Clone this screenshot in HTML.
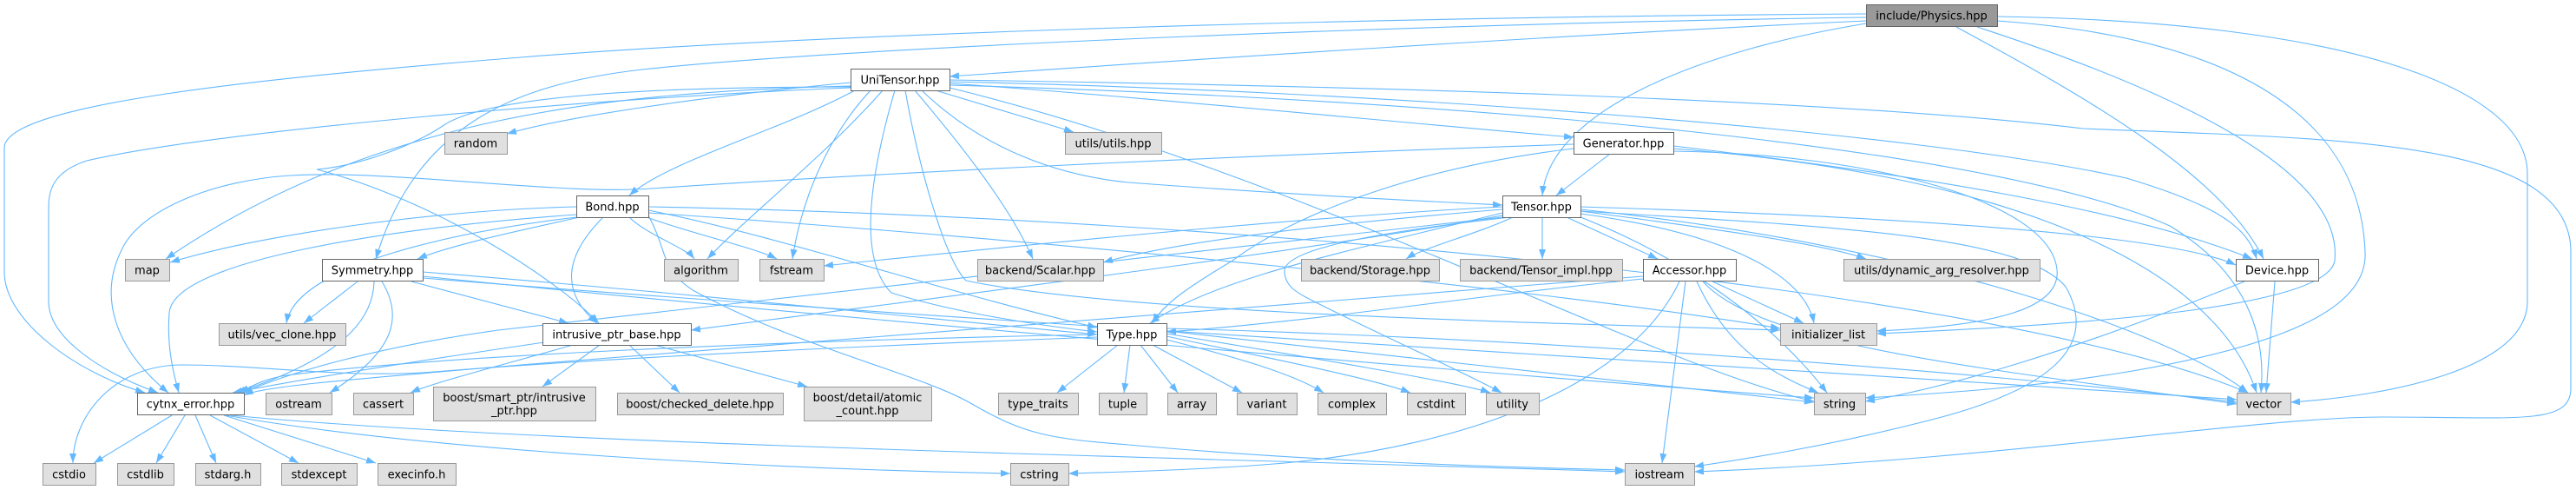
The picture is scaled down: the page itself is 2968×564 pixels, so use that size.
<!DOCTYPE html>
<html><head><meta charset="utf-8"><style>
html,body{margin:0;padding:0;background:#fff;}
svg{display:block;}
text{font-family:"DejaVu Sans","Liberation Sans",sans-serif;font-size:13px;fill:#000;text-anchor:middle;}
.w{fill:#fff;stroke:#666;stroke-width:1;}
.g{fill:#e0e0e0;stroke:#999;stroke-width:1;}
.r{fill:#999;stroke:#666;stroke-width:1;}
.e path{fill:none;stroke:#63b8ff;stroke-width:1.1;marker-end:url(#a);}
</style></head><body>
<svg width="2968" height="564" viewBox="0 0 2968 564" xmlns="http://www.w3.org/2000/svg">
<defs><marker id="a" viewBox="0 0 11 8" refX="11" refY="4" markerWidth="11" markerHeight="8" markerUnits="userSpaceOnUse" orient="auto"><path d="M0,0 L11,4 L0,8 z" fill="#63b8ff"/></marker></defs>
<g class="e">
<path d="M2150,24 C1800,40 1350,70 1094,88"/>
<path d="M2150,20 C1700,26 1000,52 740,80 C600,96 480,140 433,298"/>
<path d="M2150,16 C1500,20 900,42 600,66 C300,90 5,120 5,170 L5,313 C5,370 90,430 167,452"/>
<path d="M2150,27 C1950,60 1785,130 1777,225"/>
<path d="M2254,31 C2400,110 2560,200 2608,298"/>
<path d="M2278,31 C2520,110 2700,200 2690,300 C2682,350 2450,372 2162,384"/>
<path d="M2301,24 C2600,45 2720,150 2725,290 C2728,345 2660,392 2457,427 C2350,445 2250,452 2149,458"/>
<path d="M2301,19 C2700,25 2912,100 2912,200 L2912,347 C2912,425 2750,456 2639,463"/>
<path d="M980,95 C800,112 650,135 584,154"/>
<path d="M985,104 C900,150 770,185 725,225"/>
<path d="M980,99 C700,106 430,135 191,298"/>
<path d="M980,101 C700,112 250,150 100,185 C60,198 56,220 56,240 L56,347 C56,390 120,430 182,452"/>
<path d="M1017,104 C950,180 860,250 815,298"/>
<path d="M1003,104 C960,150 925,220 913,298"/>
<path d="M1031,104 C1000,210 990,300 1027,337 C1100,360 1200,375 1264,382"/>
<path d="M1054,104 C1110,170 1165,240 1190,298"/>
<path d="M1078,104 L1237,152"/>
<path d="M1062,104 C1120,160 1200,200 1300,210 C1500,225 1650,232 1731,236"/>
<path d="M1094,96 C1300,110 1600,140 1813,158"/>
<path d="M1094,92 C1500,98 2100,112 2400,148 C2700,160 2962,160 2962,290 L2962,447 C2962,490 2900,480 2744,480 C2600,480 2300,530 1952,543"/>
<path d="M1094,94 C1600,105 2200,150 2450,205 C2550,235 2590,260 2600,298"/>
<path d="M1094,98 C1700,115 2300,170 2500,260 C2600,320 2610,400 2605,452"/>
<path d="M1043,104 C1060,200 1090,300 1113,323 C1300,362 1800,372 2051,380"/>
<path d="M980,100 C750,100 560,110 510,145 C480,165 420,190 365,195 C500,230 640,320 690,372"/>
<path d="M1094,101 C1500,200 1900,420 2090,462"/>
<path d="M664,238 C500,242 300,270 196,302"/>
<path d="M668,250 C600,265 520,282 481,298"/>
<path d="M664,247 C450,262 200,300 195,360 C192,400 200,430 206,452"/>
<path d="M664,250 C500,270 340,310 330,372"/>
<path d="M725,250 C745,270 790,285 800,298"/>
<path d="M745,250 C800,270 870,285 895,298"/>
<path d="M695,250 C645,300 650,340 688,372"/>
<path d="M747,242 C900,272 1100,340 1264,377"/>
<path d="M747,238 C1400,250 2300,330 2590,452"/>
<path d="M747,245 C1200,275 1800,335 2051,378"/>
<path d="M747,248 C770,290 760,310 800,335 C920,400 1060,430 1120,465 C1180,500 1210,505 1300,512 C1500,530 1700,537 1872,541"/>
<path d="M412,324 L350,372"/>
<path d="M431,324 C430,365 400,410 272,452"/>
<path d="M440,324 C465,365 455,405 380,452"/>
<path d="M474,324 L655,372"/>
<path d="M487,313 C800,338 1100,370 1264,385"/>
<path d="M487,318 C900,360 1700,430 2090,458"/>
<path d="M487,320 C1100,370 2000,420 2577,460"/>
<path d="M627,394 C450,420 330,440 268,452"/>
<path d="M660,397 C580,420 500,440 473,452"/>
<path d="M691,397 L625,445"/>
<path d="M725,397 L783,452"/>
<path d="M754,397 L930,445"/>
<path d="M1288,397 L1218,452"/>
<path d="M1302,397 L1295,452"/>
<path d="M1314,397 L1357,452"/>
<path d="M1328,397 L1431,452"/>
<path d="M1344,391 C1420,410 1490,430 1525,452"/>
<path d="M1344,387 C1450,410 1580,435 1625,452"/>
<path d="M1344,384 C1500,410 1680,440 1717,452"/>
<path d="M1344,381 C1600,410 1900,440 2090,463"/>
<path d="M1344,378 C1800,390 2300,430 2577,463"/>
<path d="M1264,385 C900,392 500,410 330,432 C300,437 290,445 276,452"/>
<path d="M1264,388 C1000,398 700,412 500,428 C400,436 300,420 210,420 C130,420 84,480 84,533"/>
<path d="M1743,250 C1700,270 1640,285 1620,298"/>
<path d="M1777,250 L1777,298"/>
<path d="M1805,250 L1910,298"/>
<path d="M1821,243 C1950,260 2100,280 2150,298"/>
<path d="M1821,238 C2200,250 2500,270 2576,305"/>
<path d="M1821,246 C2000,270 2080,320 2090,372"/>
<path d="M1821,241 C2200,280 2500,380 2590,452"/>
<path d="M1821,250 C1950,300 2050,380 2105,452"/>
<path d="M1821,243 C2100,260 2330,270 2380,330 C2420,400 2360,450 2218,485 C2100,515 2000,530 1952,537"/>
<path d="M1731,245 C1550,290 1400,320 1325,372"/>
<path d="M1731,238 C1500,250 1200,280 949,306"/>
<path d="M1731,241 C1500,260 1350,280 1271,302"/>
<path d="M1731,248 C1500,290 1100,340 796,380"/>
<path d="M1731,250 C1300,300 900,340 574,380 C430,400 330,430 280,452"/>
<path d="M1740,250 C1560,270 1480,290 1480,312 C1480,330 1494,337 1520,350 C1600,390 1690,430 1730,452"/>
<path d="M1855,177 L1793,225"/>
<path d="M1813,171 C1650,190 1500,240 1420,300 C1370,330 1340,350 1328,372"/>
<path d="M1813,166 C1400,180 1000,200 750,217 C650,225 450,195 335,202 C250,207 160,240 139,290 C115,340 130,400 194,452"/>
<path d="M1928,168 C2200,200 2450,240 2595,298"/>
<path d="M1928,171 C2300,200 2550,300 2600,452"/>
<path d="M1928,174 C2150,177 2361,230 2370,310 C2375,355 2300,375 2162,381"/>
<path d="M1893,321 C1700,340 1500,372 1344,382"/>
<path d="M1973,324 L2078,372"/>
<path d="M1955,324 C1990,400 2040,430 2095,452"/>
<path d="M1942,324 L1915,533"/>
<path d="M1962,324 C2030,400 2300,425 2577,465"/>
<path d="M1935,324 C1880,440 1700,512 1480,533 C1400,540 1300,543 1231,545"/>
<path d="M1893,318 C1500,350 900,395 600,420 C400,437 300,445 281,455"/>
<path d="M2621,324 L2611,452"/>
<path d="M2586,324 C2400,400 2250,445 2149,462"/>
<path d="M198,478 L108,533"/>
<path d="M213,478 L180,533"/>
<path d="M225,478 L249,533"/>
<path d="M242,478 L344,533"/>
<path d="M258,478 L433,533"/>
<path d="M260,478 C500,520 900,540 1164,545"/>
<path d="M266,478 C600,510 1300,525 1872,543"/>
</g>
<g>
<rect class="r" x="2150.5" y="5.5" width="151" height="25"/><text x="2225.5" y="22.5">include/Physics.hpp</text>
<rect class="w" x="980.5" y="79.5" width="114" height="25"/><text x="1037" y="96.5">UniTensor.hpp</text>
<rect class="g" x="512.5" y="152.5" width="72" height="25"/><text x="548" y="169.5">random</text>
<rect class="g" x="1227.5" y="152.5" width="111" height="25"/><text x="1282.5" y="169.5">utils/utils.hpp</text>
<rect class="w" x="1813.5" y="152.5" width="115" height="25"/><text x="1870.5" y="169.5">Generator.hpp</text>
<rect class="w" x="664.5" y="225.5" width="83" height="25"/><text x="705.5" y="242.5">Bond.hpp</text>
<rect class="w" x="1731.5" y="225.5" width="90" height="25"/><text x="1776" y="242.5">Tensor.hpp</text>
<rect class="g" x="144.5" y="298.5" width="51" height="25"/><text x="169.5" y="315.5">map</text>
<rect class="w" x="371.5" y="298.5" width="116" height="25"/><text x="429" y="315.5">Symmetry.hpp</text>
<rect class="g" x="765.5" y="298.5" width="85" height="25"/><text x="807.5" y="315.5">algorithm</text>
<rect class="g" x="875.5" y="298.5" width="74" height="25"/><text x="912" y="315.5">fstream</text>
<rect class="g" x="1126.5" y="298.5" width="145" height="25"/><text x="1198.5" y="315.5">backend/Scalar.hpp</text>
<rect class="g" x="1499.5" y="298.5" width="159" height="25"/><text x="1578.5" y="315.5">backend/Storage.hpp</text>
<rect class="g" x="1682.5" y="298.5" width="187" height="25"/><text x="1775.5" y="315.5">backend/Tensor_impl.hpp</text>
<rect class="w" x="1893.5" y="298.5" width="107" height="25"/><text x="1946.5" y="315.5">Accessor.hpp</text>
<rect class="g" x="2124.5" y="298.5" width="226" height="25"/><text x="2237" y="315.5">utils/dynamic_arg_resolver.hpp</text>
<rect class="w" x="2576.5" y="298.5" width="95" height="25"/><text x="2623.5" y="315.5">Device.hpp</text>
<rect class="g" x="252.5" y="372.5" width="146" height="25"/><text x="325" y="389.5">utils/vec_clone.hpp</text>
<rect class="w" x="625.5" y="372.5" width="171" height="25"/><text x="710.5" y="389.5">intrusive_ptr_base.hpp</text>
<rect class="w" x="1264.5" y="372.5" width="80" height="25"/><text x="1304" y="389.5">Type.hpp</text>
<rect class="g" x="2051.5" y="372.5" width="111" height="25"/><text x="2106.5" y="389.5">initializer_list</text>
<rect class="w" x="158.5" y="452.5" width="123" height="25"/><text x="219.5" y="469.5">cytnx_error.hpp</text>
<rect class="g" x="306.5" y="452.5" width="76" height="25"/><text x="344" y="469.5">ostream</text>
<rect class="g" x="407.5" y="452.5" width="69" height="25"/><text x="441.5" y="469.5">cassert</text>
<rect class="g" x="499.5" y="445.5" width="187" height="39"/><text x="592.5" y="462">boost/smart_ptr/intrusive</text><text x="592.5" y="477">_ptr.hpp</text>
<rect class="g" x="711.5" y="452.5" width="191" height="25"/><text x="806.5" y="469.5">boost/checked_delete.hpp</text>
<rect class="g" x="926.5" y="445.5" width="147" height="39"/><text x="999.5" y="462">boost/detail/atomic</text><text x="999.5" y="477">_count.hpp</text>
<rect class="g" x="1150.5" y="452.5" width="92" height="25"/><text x="1196" y="469.5">type_traits</text>
<rect class="g" x="1266.5" y="452.5" width="55" height="25"/><text x="1293.5" y="469.5">tuple</text>
<rect class="g" x="1345.5" y="452.5" width="56" height="25"/><text x="1373" y="469.5">array</text>
<rect class="g" x="1425.5" y="452.5" width="69" height="25"/><text x="1459.5" y="469.5">variant</text>
<rect class="g" x="1518.5" y="452.5" width="79" height="25"/><text x="1557.5" y="469.5">complex</text>
<rect class="g" x="1621.5" y="452.5" width="67" height="25"/><text x="1654.5" y="469.5">cstdint</text>
<rect class="g" x="1712.5" y="452.5" width="61" height="25"/><text x="1742.5" y="469.5">utility</text>
<rect class="g" x="2090.5" y="452.5" width="59" height="25"/><text x="2119.5" y="469.5">string</text>
<rect class="g" x="2577.5" y="452.5" width="62" height="25"/><text x="2608" y="469.5">vector</text>
<rect class="g" x="49.5" y="533.5" width="61" height="25"/><text x="79.5" y="550.5">cstdio</text>
<rect class="g" x="135.5" y="533.5" width="65" height="25"/><text x="167.5" y="550.5">cstdlib</text>
<rect class="g" x="225.5" y="533.5" width="75" height="25"/><text x="262.5" y="550.5">stdarg.h</text>
<rect class="g" x="324.5" y="533.5" width="87" height="25"/><text x="367.5" y="550.5">stdexcept</text>
<rect class="g" x="435.5" y="533.5" width="90" height="25"/><text x="480" y="550.5">execinfo.h</text>
<rect class="g" x="1164.5" y="533.5" width="67" height="25"/><text x="1197.5" y="550.5">cstring</text>
<rect class="g" x="1872.5" y="533.5" width="80" height="25"/><text x="1912" y="550.5">iostream</text>
</g>
</svg>
</body></html>
